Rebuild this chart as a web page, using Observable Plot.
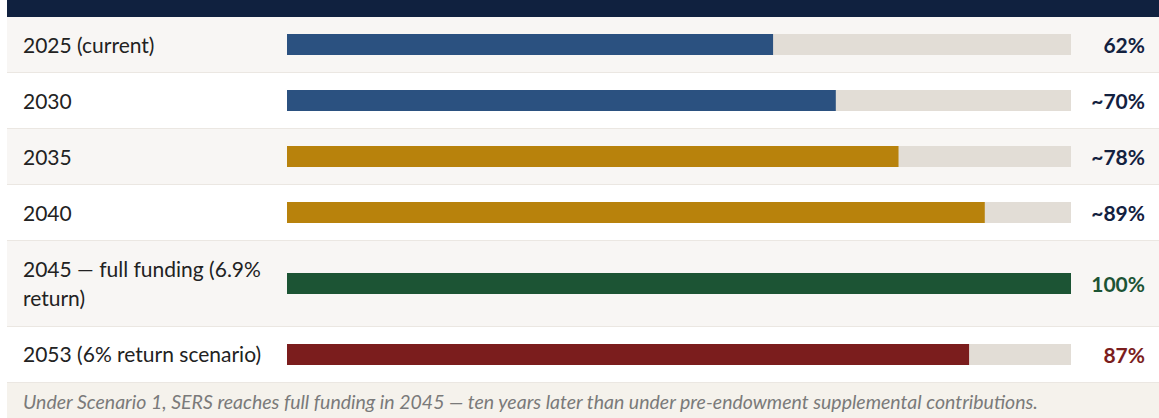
<!DOCTYPE html>
<html>
<head>
<meta charset="utf-8">
<script src="https://cdn.jsdelivr.net/npm/d3@7"></script>
<script src="https://cdn.jsdelivr.net/npm/@observablehq/plot@0.6"></script>
<style>
  html, body { margin: 0; padding: 0; background: #ffffff; }
  body { width: 1159px; height: 418px; overflow: hidden; font-family: Lato, "Open Sans", sans-serif; }
  #wrap { margin-left: 7px; width: 1152px; }
  #head { height: 17px; background: #10213f; }
  .row { display: flex; align-items: center; border-bottom: 1px solid #ebe7e2; }
  .row.odd { background: #f8f6f4; }
  .row.even { background: #ffffff; }
  .lab { box-sizing: border-box; width: 280px; padding: 12.75px 14px 12.75px 16px; font-size: 21px; line-height: 29.5px; color: #222222; }
  .bar { width: 784px; height: 21px; }
  .bar svg { display: block; }
  .val { flex: 1; text-align: right; padding-right: 14px; font-size: 21px; font-weight: 700; }
  #cap { background: #f5f2ec; padding: 8px 16px; font-size: 19.5px; font-style: italic; color: #7a7a7a; line-height: 22px; }
</style>
</head>
<body>
<div id="wrap">
  <div id="head"></div>
  <div id="rows"></div>
  <div id="cap"></div>
</div>
<script>
const categories = ["2025 (current)", "2030", "2035", "2040", "2045 — full funding (6.9% return)", "2053 (6% return scenario)"];
const fundedPct = [62, 70, 78, 89, 100, 87];
const valueLabels = ["62%", "~70%", "~78%", "~89%", "100%", "87%"];
const barColors = ["#2b5180", "#2b5180", "#b8820c", "#b8820c", "#1c5434", "#7b1d1d"];
const valueColors = ["#13213f", "#13213f", "#13213f", "#13213f", "#1c5434", "#7b1d1d"];
const trackMax = 100;
const caption = "Under Scenario 1, SERS reaches full funding in 2045 — ten years later than under pre-endowment supplemental contributions.";

const rows = document.getElementById("rows");
categories.forEach((cat, i) => {
  const row = document.createElement("div");
  row.className = "row " + (i % 2 === 0 ? "odd" : "even");
  const lab = document.createElement("div");
  lab.className = "lab";
  lab.textContent = cat;
  const barDiv = document.createElement("div");
  barDiv.className = "bar";
  const data = [{value: fundedPct[i]}];
  const chart = Plot.plot({
    width: 784,
    height: 21,
    margin: 0,
    x: {domain: [0, trackMax], axis: null},
    style: {background: "transparent"},
    marks: [
      Plot.barX(data, {x1: 0, x2: trackMax, fill: "#e2ddd6"}),
      Plot.barX(data, {x1: 0, x2: "value", fill: barColors[i]})
    ]
  });
  barDiv.appendChild(chart);
  const val = document.createElement("div");
  val.className = "val";
  val.style.color = valueColors[i];
  val.textContent = valueLabels[i];
  row.append(lab, barDiv, val);
  rows.appendChild(row);
});
document.getElementById("cap").textContent = caption;
</script>
</body>
</html>
